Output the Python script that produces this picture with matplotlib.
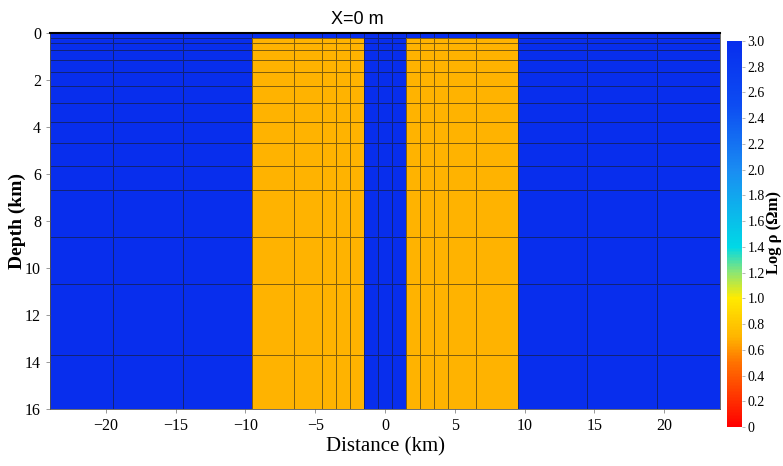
import numpy as np
import matplotlib
matplotlib.use("Agg")
import matplotlib.pyplot as plt
from matplotlib.colors import LinearSegmentedColormap

# mesh nodes (km)
x_nodes = [-24, -19.5, -14.5, -9.5, -6.5, -4.5, -3.5, -2.5, -1.5, -0.5,
           0.5, 1.5, 2.5, 3.5, 4.5, 6.5, 9.5, 14.5, 19.5, 24]
z_nodes = [0, 0.2, 0.43, 0.74, 1.14, 1.66, 2.27, 2.98, 3.8, 4.68, 5.65,
           6.7, 8.66, 10.7, 13.7, 16]

# model: background and two conductive blocks (log10 resistivity)
background_logrho = 3.0
blocks = [(-9.5, -1.5, 0.2, 16), (1.5, 9.5, 0.2, 16)]
block_logrho = 0.7

cbar_ticks = [0, 0.2, 0.4, 0.6, 0.8, 1.0, 1.2, 1.4, 1.6, 1.8, 2.0, 2.2,
              2.4, 2.6, 2.8, 3.0]
cbar_labels = ["0"] + ["%.1f" % t for t in cbar_ticks[1:]]

# jet-like map: red -> orange -> yellow -> cyan -> blue
cmap = LinearSegmentedColormap.from_list("rho", [
    (0.0, (1.0, 0.0, 0.0)),
    (0.5 / 3, (1.0, 0.45, 0.0)),
    (0.7 / 3, (1.0, 0.71, 0.0)),
    (1.0 / 3, (1.0, 0.92, 0.0)),
    (1.2 / 3, (0.55, 0.9, 0.45)),
    (1.4 / 3, (0.0, 0.85, 0.9)),
    (2.0 / 3, (0.1, 0.55, 0.95)),
    (2.5 / 3, (0.05, 0.3, 0.95)),
    (1.0, (0.03, 0.18, 0.93)),
])

xn = np.array(x_nodes)
zn = np.array(z_nodes)
xc = 0.5 * (xn[:-1] + xn[1:])
zc = 0.5 * (zn[:-1] + zn[1:])
model = np.full((len(zc), len(xc)), background_logrho)
for x0, x1, z0, z1 in blocks:
    mask = ((xc[None, :] > x0) & (xc[None, :] < x1) &
            (zc[:, None] > z0) & (zc[:, None] < z1))
    model[mask] = block_logrho

fig = plt.figure(figsize=(7.83, 4.66), dpi=100)
ax = fig.add_axes([0.0639, 0.1223, 0.8557, 0.8069])
pc = ax.pcolormesh(xn, zn, model, cmap=cmap, vmin=0, vmax=3,
                   edgecolors=(0.1, 0.1, 0.1, 0.55), linewidth=0.6)
ax.set_xlim(-24, 24)
ax.set_ylim(16, 0)
ax.set_xticks([-20, -15, -10, -5, 0, 5, 10, 15, 20])
ax.set_yticks([0, 2, 4, 6, 8, 10, 12, 14, 16])
ax.tick_params(labelsize=11.5, length=3, width=0.6, color="#888888")
for lab in ax.get_xticklabels() + ax.get_yticklabels():
    lab.set_family("Liberation Serif")
for s in ax.spines.values():
    s.set_linewidth(0.6)
    s.set_color("#555555")
ax.spines["top"].set_color("black")
ax.spines["top"].set_linewidth(1.5)

ax.set_xlabel("Distance (km)", family="Liberation Serif", fontsize=15,
              labelpad=2)
ax.set_ylabel("Depth (km)", family="Liberation Serif", fontsize=14,
              fontweight="bold", labelpad=-1)
fig.text(0.456, 0.958, "X=0 m", ha="center", va="center", fontsize=13,
         family="Liberation Sans")

cax = fig.add_axes([0.9285, 0.0837, 0.0192, 0.8283])
cb = fig.colorbar(pc, cax=cax, ticks=cbar_ticks)
cb.ax.set_yticklabels(cbar_labels)
cb.outline.set_visible(False)
cb.ax.tick_params(labelsize=10, length=2, width=0.5, color="#999999",
                  pad=2)
for lab in cb.ax.get_yticklabels():
    lab.set_family("Liberation Serif")
fig.text(0.988, 0.5, "Log ρ (Ωm)", rotation=90, ha="center", va="center",
         family="Liberation Serif", fontsize=12, fontweight="bold")

fig.savefig("out.png", dpi=100)
